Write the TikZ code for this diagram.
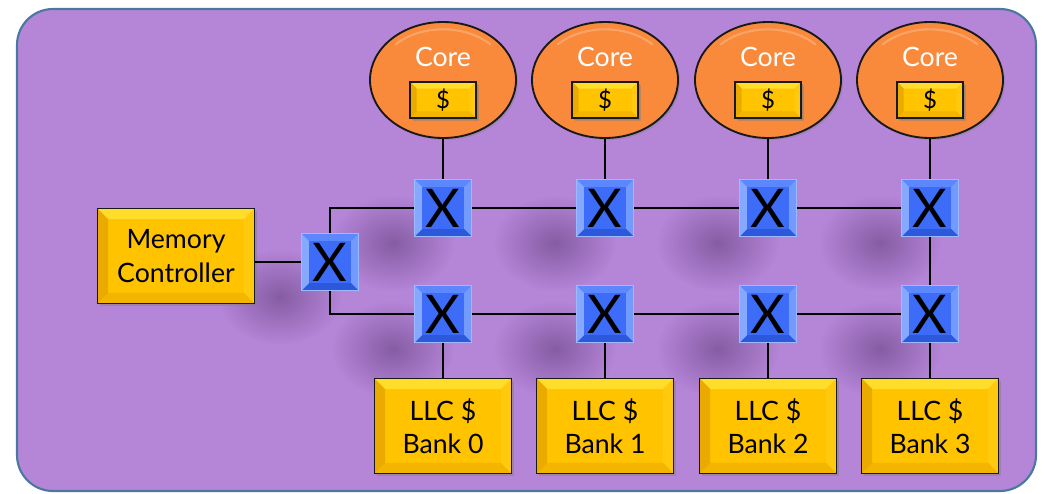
\documentclass[tikz,border=0pt]{standalone}
\usepackage{fontspec}
\setmainfont{Lato}
\usetikzlibrary{shapes.geometric,shadows,fadings}

\definecolor{bg}{HTML}{B585D8}
\definecolor{bgedge}{HTML}{4A78A0}
\definecolor{gold}{HTML}{FFC300}
\definecolor{goldtop}{HTML}{FFDD2A}
\definecolor{goldleft}{HTML}{EAAA00}
\definecolor{goldright}{HTML}{FFC90E}
\definecolor{goldbot}{HTML}{F4B500}
\definecolor{sw}{HTML}{3C6CF8}
\definecolor{swtop}{HTML}{5C88FF}
\definecolor{swleft}{HTML}{86A9FF}
\definecolor{swright}{HTML}{729AFF}
\definecolor{swbot}{HTML}{2C58DC}
\definecolor{swedge}{HTML}{9DB9FF}
\definecolor{corein}{HTML}{F98A3C}
\definecolor{coreout}{HTML}{D86A22}
\definecolor{blob}{HTML}{4A2A60}

\pgfdeclareradialshading{coreshade}{\pgfpoint{0bp}{0bp}}{%
  color(0bp)=(corein); color(38bp)=(corein); color(48bp)=(coreout); color(50bp)=(coreout)}
\tikzfading[name=fuzzy, inner color=transparent!45, outer color=transparent!100]

\tikzset{
  bevel/.style n args={5}{path picture={
    \coordinate (bnw) at (path picture bounding box.north west);
    \coordinate (bne) at (path picture bounding box.north east);
    \coordinate (bsw) at (path picture bounding box.south west);
    \coordinate (bse) at (path picture bounding box.south east);
    \fill[#2] (bnw) -- (bne) -- ([shift={(-#1,-#1)}]bne) -- ([shift={(#1,-#1)}]bnw) -- cycle;
    \fill[#3] (bne) -- (bse) -- ([shift={(-#1,#1)}]bse) -- ([shift={(-#1,-#1)}]bne) -- cycle;
    \fill[#4] (bse) -- (bsw) -- ([shift={(#1,#1)}]bsw) -- ([shift={(-#1,#1)}]bse) -- cycle;
    \fill[#5] (bsw) -- (bnw) -- ([shift={(#1,-#1)}]bnw) -- ([shift={(#1,#1)}]bsw) -- cycle;
  }},
  goldbox/.style={draw=black!90, line width=1.4pt, fill=gold,
    bevel={8pt}{goldtop}{goldright}{goldbot}{goldleft},
    drop shadow={shadow xshift=2pt, shadow yshift=-2pt, opacity=.45},
    align=center, font=\fontsize{20}{25}\selectfont, inner sep=0pt},
  membox/.style={goldbox, minimum width=117.75pt, minimum height=71.25pt},
  bankbox/.style={goldbox, minimum width=102.75pt, minimum height=71.25pt},
  cachebox/.style={goldbox, line width=1.2pt, minimum width=49.5pt, minimum height=27pt,
    bevel={5pt}{goldtop}{goldright}{goldbot}{goldleft},
    drop shadow={shadow xshift=1.5pt, shadow yshift=-1.5pt, opacity=.45},
    font=\fontsize{18}{20}\selectfont},
  xbar/.style={draw=swedge, line width=0.6pt, fill=sw,
    bevel={5.5pt}{swtop}{swright}{swbot}{swleft},
    minimum width=42.75pt, minimum height=42.75pt, inner sep=0pt,
    font=\fontsize{40}{40}\selectfont\addfontfeatures{FakeBold=-0.2}},
  core/.style={ellipse, draw=black!90, line width=1.4pt, shading=coreshade,
    minimum width=109.5pt, minimum height=87pt, inner sep=0pt,
    drop shadow={shadow xshift=1.5pt, shadow yshift=-1.5pt, opacity=.4}},
  corelabel/.style={text=white, font=\fontsize{20}{24}\selectfont, inner sep=0pt},
  wire/.style={line width=1.3pt, black},
  gloss/.style={white, opacity=.22, line width=1.6pt, line cap=round},
  haze/.style={blob, opacity=.8, path fading=fuzzy}
}

\begin{document}
\begin{tikzpicture}[x=0.75pt,y=-0.75pt]
\useasboundingbox (0,0) rectangle (1044,493);

% panel
\draw[bgedge, line width=1.6pt, fill=bg, rounded corners=27pt] (17,9) rectangle (1036,491);

% soft shadows cast by the crossbar switches
\foreach \x in {443,605,768,930} {
  \fill[haze] (\x-50,243) ellipse (46pt and 36pt);
  \fill[haze] (\x-50,349) ellipse (46pt and 36pt);
}
\fill[haze] (280,297) ellipse (46pt and 36pt);

% cores with private caches
\foreach \i/\x in {1/443,2/605,3/768,4/930} {
  \node[core] (c\i) at (\x,80) {};
  \draw[gloss] ([shift={(135:50pt and 38pt)}]c\i.center)
     arc[start angle=135, end angle=45, x radius=50pt, y radius=38pt];
  \node[corelabel] (cl\i) at (\x,57) {Core};
  \node[cachebox] (k\i) at (\x,100) {\$};
}

% crossbar switches
\foreach \i/\x in {1/443,2/605,3/768,4/930} {
  \node[xbar] (t\i) at (\x,208) {X};
  \node[xbar] (b\i) at (\x,314) {X};
}
\node[xbar] (xl) at (330,262) {X};

% memory controller and LLC banks
\node[membox] (mc) at (176,256) {Memory\\Controller};
\foreach \i/\x/\n in {1/443/0,2/605/1,3/768/2,4/930/3}
  \node[bankbox] (bank\i) at (\x,426) {LLC \$\\Bank \n};

% wiring
\foreach \i in {1,...,4} {
  \draw[wire] (c\i.south) -- (t\i.north);
  \draw[wire] (b\i.south) -- (bank\i.north);
}
\draw[wire] (t1) -- (t2);
\draw[wire] (t2) -- (t3);
\draw[wire] (t3) -- (t4);
\draw[wire] (b1) -- (b2);
\draw[wire] (b2) -- (b3);
\draw[wire] (b3) -- (b4);
\draw[wire] (t4) -- (b4);
\draw[wire] (xl.north) |- (t1.west);
\draw[wire] (xl.south) |- (b1.west);
\draw[wire] (xl.west -| mc.east) -- (xl.west);
\end{tikzpicture}
\end{document}
